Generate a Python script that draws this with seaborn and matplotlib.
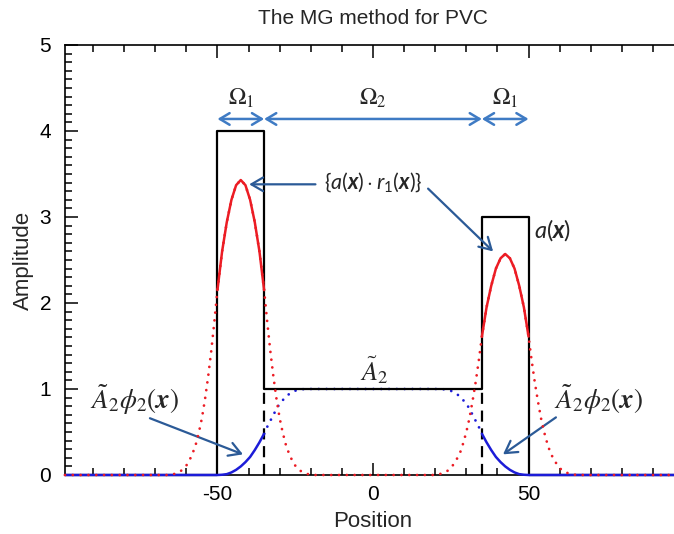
import matplotlib
matplotlib.use("Agg")
import matplotlib.pyplot as plt
from matplotlib.ticker import MultipleLocator
import numpy as np
import pandas as pd
import seaborn as sns

# Object amplitude a(x): constant level inside each region
edge_pos = [-99, -50, -35, 35, 50, 99]
a_levels = [0, 4, 1, 3, 0]

# Region boundaries
omega1_left = (-50, -35)
omega2 = (-35, 35)
omega1_right = (35, 50)
a2_level = 1.0

# r1-weighted profile (red)
r1_pos = [-99, -65.5, -63.5, -62, -61, -60, -59, -58, -57, -56, -55, -54, -53, -52, -51,
          -50, -48.5, -47, -45.5, -44, -42.5, -41, -39.5, -38, -36.5, -35,
          -34, -33, -32, -31, -30, -29, -28, -27, -26, -25, -24, -23, -21.5, -19.5,
          19.5, 21.5, 23, 24, 25, 26, 27, 28, 29, 30, 31, 32, 33, 34,
          35, 36.5, 38, 39.5, 41, 42.5, 44, 45.5, 47, 48.5, 50,
          51, 52, 53, 54, 55, 56, 57, 58, 59, 60, 61, 62, 63.5, 65.5, 99]
r1_val = [0, 0, 0.015, 0.04, 0.07, 0.11, 0.17, 0.25, 0.35, 0.49, 0.66, 0.88, 1.14, 1.44, 1.78,
          2.15, 2.60, 2.94, 3.20, 3.37, 3.43, 3.37, 3.20, 2.94, 2.60, 2.15,
          1.78, 1.44, 1.14, 0.88, 0.66, 0.49, 0.35, 0.25, 0.17, 0.11, 0.07, 0.04, 0.015, 0,
          0, 0.011, 0.03, 0.05, 0.08, 0.13, 0.19, 0.26, 0.37, 0.50, 0.66, 0.86, 1.08, 1.33,
          1.61, 1.95, 2.20, 2.40, 2.52, 2.57, 2.52, 2.40, 2.20, 1.95, 1.61,
          1.33, 1.08, 0.86, 0.66, 0.50, 0.37, 0.26, 0.19, 0.13, 0.08, 0.05, 0.03, 0.011, 0, 0]

# A2 * phi2 profile (blue)
phi_pos = [-99, -50, -48.5, -47, -45.5, -44, -42.5, -41, -39.5, -38, -36.5, -35,
           -34, -33, -32, -31, -30, -29, -28, -27, -26, -25, -24, -22,
           22, 24, 25, 26, 27, 28, 29, 30, 31, 32, 33, 34,
           35, 36.5, 38, 39.5, 41, 42.5, 44, 45.5, 47, 48.5, 50, 99]
phi_val = [0, 0, 0.003, 0.01, 0.03, 0.06, 0.10, 0.15, 0.21, 0.29, 0.38, 0.48,
           0.56, 0.63, 0.70, 0.77, 0.83, 0.87, 0.91, 0.94, 0.96, 0.98, 0.99, 1.0,
           1.0, 0.99, 0.98, 0.96, 0.94, 0.91, 0.87, 0.83, 0.77, 0.70, 0.63, 0.56,
           0.48, 0.38, 0.29, 0.21, 0.15, 0.10, 0.06, 0.03, 0.01, 0.003, 0, 0]

r1 = pd.DataFrame({"Position": r1_pos, "Amplitude": r1_val})
phi = pd.DataFrame({"Position": phi_pos, "Amplitude": phi_val})
a_df = pd.DataFrame({"Position": edge_pos, "Amplitude": a_levels + [a_levels[-1]]})

sns.set_style("ticks")
plt.rcParams["font.family"] = ["Liberation Sans", "DejaVu Sans"]
plt.rcParams["mathtext.fontset"] = "custom"
plt.rcParams["mathtext.rm"] = "Lato"
plt.rcParams["mathtext.it"] = "Lato:italic"
plt.rcParams["mathtext.bf"] = "Lato:bold"
plt.rcParams["mathtext.bfit"] = "Lato:italic:bold"

RED = "#ec1c24"
BLUE = "#1c1cd8"
ARROW = "#3f7bc4"
POINTER = "#2b5a97"

fig = plt.figure(figsize=(6.74, 5.34), dpi=100)
ax = fig.add_axes([65 / 674, 59 / 534, 616 / 674, 430 / 534])

line_kw = dict(estimator=None, sort=False, legend=False, ax=ax, clip_on=False)

# blue dotted part inside Omega2 (beneath the a(x) line)
sns.lineplot(data=phi[(phi.Position >= -35) & (phi.Position <= 35)], x="Position", y="Amplitude",
             color=BLUE, lw=2, linestyle=(0, (0.01, 2.8)), dash_capstyle="round", zorder=2, **line_kw)

# a(x) as a step function
sns.lineplot(data=a_df, x="Position", y="Amplitude", color="black", lw=1.6,
             drawstyle="steps-post", zorder=3, **line_kw)
ax.vlines([omega2[0], omega2[1]], 0, a2_level, colors="black", lw=1.6,
          linestyles=(0, (5, 3)), zorder=3)

# blue solid parts outside Omega2
for part in (phi[phi.Position <= -35], phi[phi.Position >= 35]):
    sns.lineplot(data=part, x="Position", y="Amplitude", color=BLUE, lw=1.8, zorder=4, **line_kw)

# red solid inside Omega1, dotted everywhere
for lo, hi in (omega1_left, omega1_right):
    part = r1[(r1.Position >= lo) & (r1.Position <= hi)]
    sns.lineplot(data=part, x="Position", y="Amplitude", color=RED, lw=1.8, zorder=5, **line_kw)
sns.lineplot(data=r1, x="Position", y="Amplitude", color=RED, lw=2,
             linestyle=(0, (0.01, 2.8)), dash_capstyle="round", zorder=6, **line_kw)

# axes styling
ax.set_xlim(-99, 99)
ax.set_ylim(0, 5)
ax.xaxis.set_major_locator(MultipleLocator(50))
ax.xaxis.set_minor_locator(MultipleLocator(10))
ax.yaxis.set_major_locator(MultipleLocator(1))
ax.yaxis.set_minor_locator(MultipleLocator(0.1))
ax.tick_params(which="both", direction="in", top=True, right=False, width=1.1, colors="black",
               labelsize=15)
ax.tick_params(which="major", length=9)
ax.tick_params(which="minor", length=5)
ax.tick_params(axis="y", pad=10)
ax.tick_params(axis="x", pad=7)
for s in ax.spines.values():
    s.set_linewidth(1.2)
    s.set_color("black")
ax.set_xticklabels([f"{int(t)}" for t in ax.get_xticks()])
ax.set_xlabel("Position", fontsize=16, labelpad=5)
ax.set_ylabel("Amplitude", fontsize=16, labelpad=4)
ax.set_title("The MG method for PVC", fontsize=15, pad=15)

# region arrows
arrow_y = 4.14
for lo, hi in (omega1_left, omega2, omega1_right):
    ax.annotate("", xy=(hi, arrow_y), xytext=(lo, arrow_y),
                arrowprops=dict(arrowstyle="<->,head_length=0.5,head_width=0.3", color=ARROW,
                                lw=1.8, shrinkA=0, shrinkB=0, mutation_scale=14))
for lo, hi, lab in ((*omega1_left, r"$\Omega_1$"), (*omega2, r"$\Omega_2$"), (*omega1_right, r"$\Omega_1$")):
    ax.text((lo + hi) / 2, 4.38, lab, ha="center", va="center", fontsize=17, math_fontfamily="stix")

# labels and pointers
ax.text(0, 3.40, r"$\{a(\boldsymbol{x})\cdot r_{\mathit{1}}(\boldsymbol{x})\}$", ha="center",
        va="center", fontsize=15.5)
pointer = dict(arrowstyle="->,head_length=0.6,head_width=0.35", color=POINTER, lw=1.6,
               shrinkA=0, shrinkB=0, mutation_scale=14)
ax.annotate("", xy=(-39.8, 3.38), xytext=(-18.5, 3.38), arrowprops=pointer)
ax.annotate("", xy=(38.6, 2.60), xytext=(17.7, 3.33), arrowprops=pointer)

ax.text(51.8, 2.85, r"$a(\boldsymbol{x})$", ha="left", va="center", fontsize=17)
ax.text(0.6, 1.22, r"$\tilde{A}_2$", ha="center", va="center", fontsize=19, math_fontfamily="stix")

for xc, start, end in ((-76.5, (-71.7, 0.66), (-41.8, 0.24)), (72.5, (58.8, 0.67), (41.8, 0.24))):
    ax.text(xc, 0.88, r"$\tilde{A}_2\phi_2(\boldsymbol{x})$", ha="center", va="center",
            fontsize=19.5, math_fontfamily="stix")
    ax.annotate("", xy=end, xytext=start, arrowprops=pointer)

fig.savefig("out.png", dpi=100)
